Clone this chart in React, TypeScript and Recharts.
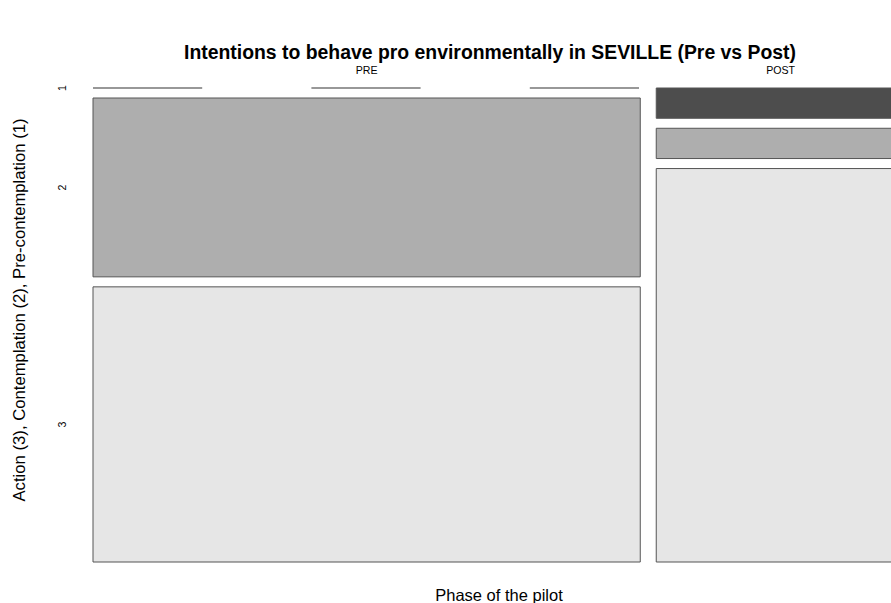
import React from 'react';
import { ComposedChart, XAxis, YAxis, ReferenceArea, ReferenceLine, Scatter } from 'recharts';

const phases = ['PRE', 'POST'];
const stageLabels = ['1', '2', '3'];
const preCounts = [0, 26, 40];
const postCounts = [2, 2, 26];
const stageColors = ['#4D4D4D', '#AEAEAE', '#E6E6E6'];

const title = 'Intentions to behave pro environmentally in SEVILLE (Pre vs Post)';
const xTitle = 'Phase of the pilot';
const yTitle = 'Action (3), Contemplation (2), Pre-contemplation (1)';

const GAP_X = 0.0197;
const GAP_Y = 0.0211;

const counts = [preCounts, postCounts];
const totals = counts.map((c) => c.reduce((a, b) => a + b, 0));
const grand = totals.reduce((a, b) => a + b, 0);
const usableX = 1 - GAP_X * (phases.length - 1);
const usableY = 1 - GAP_Y * (stageLabels.length - 1);

type Cell = { x1: number; x2: number; y1: number; y2: number; level: number; zero: boolean };
const cells: Cell[] = [];
const colCenters: number[] = [];
let xCursor = 0;
counts.forEach((col, ci) => {
  const w = (totals[ci] / grand) * usableX;
  colCenters.push(xCursor + w / 2);
  let yCursor = 0;
  col.forEach((v, li) => {
    const h = (v / totals[ci]) * usableY;
    cells.push({ x1: xCursor, x2: xCursor + w, y1: yCursor, y2: yCursor + h, level: li, zero: v === 0 });
    yCursor += h + GAP_Y;
  });
  xCursor += w + GAP_X;
});
const preCells = cells.slice(0, stageLabels.length);
const rowCenters = preCells.map((c) => (c.y1 + c.y2) / 2);
const corners = cells.flatMap((c) => [
  { x: c.x1, y: c.y1 },
  { x: c.x2, y: c.y2 },
]);

const FONT = '"Liberation Sans", Arial, Helvetica, sans-serif';

const YTick = (props: any) => {
  const { x, y, payload, index } = props;
  return (
    <text
      x={x}
      y={y}
      transform={`rotate(-90, ${x}, ${y})`}
      textAnchor="middle"
      dominantBaseline="central"
      fontSize={10.6}
      fill="#000"
      fontFamily={FONT}
    >
      {stageLabels[index] ?? payload.value}
    </text>
  );
};

export default function App() {
  return (
    <div style={{ position: 'absolute', left: 0, top: 0, width: 891, height: 603, overflow: 'hidden', background: '#fff' }}>
      <ComposedChart
        width={891}
        height={603}
        margin={{ top: 48, right: -14, bottom: 41, left: 33 }}
        style={{ fontFamily: FONT }}
      >
        <XAxis
          xAxisId={0}
          dataKey="x"
          type="number"
          orientation="top"
          domain={[0, 1]}
          allowDataOverflow
          ticks={colCenters}
          interval={0}
          height={40}
          axisLine={false}
          tickLine={false}
          tickSize={0}
          tickMargin={14}
          tick={{ fontSize: 10.6, fill: '#000' }}
          tickFormatter={(_v: number, i: number) => phases[i]}
        />
        <YAxis
          yAxisId={0}
          dataKey="y"
          type="number"
          domain={[0, 1]}
          allowDataOverflow
          reversed
          ticks={rowCenters}
          interval={0}
          width={60}
          axisLine={false}
          tickLine={false}
          tickSize={0}
          tickMargin={31}
          tick={<YTick />}
        />
        <Scatter
          data={corners}
          dataKey="y"
          isAnimationActive={false}
          shape={() => <g />}
          legendType="none"
        />
        {cells
          .filter((c) => !c.zero)
          .map((c, i) => (
            <ReferenceArea
              key={`a${i}`}
              x1={c.x1}
              x2={c.x2}
              y1={c.y1}
              y2={c.y2}
              fill={stageColors[c.level]}
              fillOpacity={1}
              stroke="#555"
              strokeWidth={1}
              ifOverflow="visible"
            />
          ))}
        {cells
          .filter((c) => c.zero)
          .map((c, i) => (
            <ReferenceLine
              key={`z${i}`}
              segment={[
                { x: c.x1, y: c.y1 },
                { x: c.x2, y: c.y1 },
              ]}
              stroke="#777"
              strokeWidth={1.5}
              strokeDasharray="109.2 109.2"
              ifOverflow="visible"
            />
          ))}
        <text x={490} y={52} textAnchor="middle" dominantBaseline="central" fontSize={19.4} fontWeight="bold" fill="#000" fontFamily={FONT}>
          {title}
        </text>
        <text x={499} y={595} textAnchor="middle" dominantBaseline="central" fontSize={16.5} fill="#000" fontFamily={FONT}>
          {xTitle}
        </text>
        <text
          x={19}
          y={310}
          transform="rotate(-90, 19, 310)"
          textAnchor="middle"
          dominantBaseline="central"
          fontSize={16.7}
          fill="#000"
          fontFamily={FONT}
        >
          {yTitle}
        </text>
      </ComposedChart>
    </div>
  );
}
